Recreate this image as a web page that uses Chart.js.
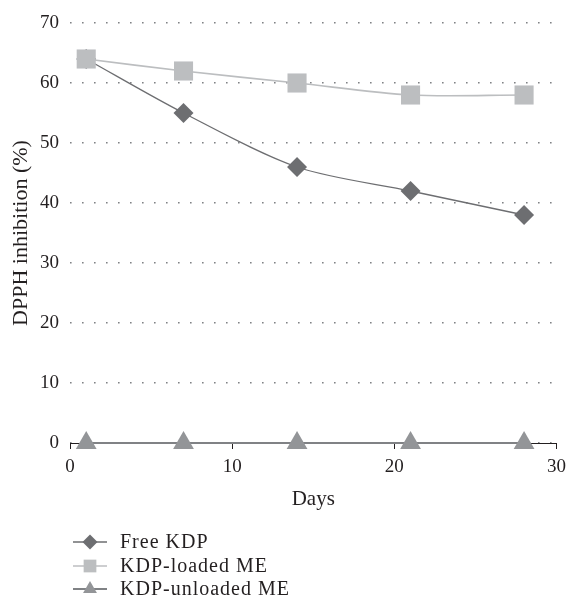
<!DOCTYPE html>
<html><head><meta charset="utf-8">
<script src="https://cdn.jsdelivr.net/npm/chart.js@4.4.1/dist/chart.umd.min.js"></script>
<style>
html,body{margin:0;padding:0;background:#fff;}
#wrap{position:relative;width:573px;height:601px;}
#legend{position:absolute;left:120px;top:530px;font-family:"Liberation Serif",serif;font-size:20px;letter-spacing:1px;color:#231f20;}
#legend div{height:23.5px;line-height:23.5px;white-space:nowrap;}
</style></head><body>
<div id="wrap"><canvas id="c" width="573" height="601"></canvas><div id="legend"></div></div>
<script>
const days = [1, 7, 14, 21, 28];
const seriesNames = ['Free KDP', 'KDP-loaded ME', 'KDP-unloaded ME'];
const freeKDP = [64, 55, 46, 42, 38];
const loadedME = [64, 62, 60, 58, 58];
const unloadedME = [0, 0, 0, 0, 0];
const xTickValues = [0, 10, 20, 30];
const yTickValues = [0, 10, 20, 30, 40, 50, 60, 70];
const xTitle = 'Days';
const yTitle = 'DPPH inhibition (%)';

const FONT = '"Liberation Serif", "Times New Roman", serif';
const TEXT = '#231f20';
const styles = [
  {color: '#6d6e71', line: '#6d6e71', lw: 1.3, shape: 'rectRot', r: 10, lr: 7.5, order: 1},
  {color: '#bcbec0', line: '#bcbec0', lw: 1.6, shape: 'rect', r: 13.5, lr: 9, order: 0},
  {color: '#939598', line: '#808285', lw: 2, shape: 'triangle', r: 12, lr: 8, order: 2}
];
const seriesData = [freeKDP, loadedME, unloadedME];
const legendRowY = [542, 566, 589];

const legendEl = document.getElementById('legend');
seriesNames.forEach(n => { const d = document.createElement('div'); d.textContent = n; legendEl.appendChild(d); });

const legendIcons = {
  id: 'legendIcons',
  afterDraw(chart) {
    const ctx = chart.ctx;
    styles.forEach((s, i) => {
      const y = legendRowY[i];
      ctx.save();
      ctx.strokeStyle = s.line;
      ctx.lineWidth = s.lw;
      ctx.beginPath(); ctx.moveTo(73, y); ctx.lineTo(107, y); ctx.stroke();
      ctx.fillStyle = s.color;
      Chart.helpers.drawPoint(ctx, {pointStyle: s.shape, radius: s.lr, rotation: 0, borderWidth: 0}, 90, y);
      ctx.restore();
    });
  }
};

new Chart(document.getElementById('c'), {
  type: 'line',
  data: {
    datasets: seriesNames.map((name, i) => ({
      label: name,
      data: days.map((d, k) => ({x: d, y: seriesData[i][k]})),
      borderColor: styles[i].line,
      borderWidth: styles[i].lw,
      backgroundColor: styles[i].color,
      pointStyle: styles[i].shape,
      pointRadius: styles[i].r,
      pointHoverRadius: styles[i].r,
      pointBorderWidth: 0,
      pointBackgroundColor: styles[i].color,
      tension: 0.3,
      clip: false,
      order: styles[i].order
    }))
  },
  options: {
    responsive: false,
    animation: false,
    devicePixelRatio: 1,
    layout: {padding: {top: 23, right: 12, bottom: 88, left: 0}},
    plugins: {legend: {display: false}, tooltip: {enabled: false}},
    scales: {
      x: {
        type: 'linear', min: 0, max: 30,
        afterBuildTicks: s => { s.ticks = xTickValues.map(v => ({value: v})); },
        afterFit: s => { s.height = 70; },
        ticks: {font: {family: FONT, size: 19}, color: TEXT, padding: 7},
        grid: {display: true, drawOnChartArea: false, drawTicks: true, tickLength: 6, color: TEXT, lineWidth: 1},
        border: {display: true, color: TEXT, width: 1},
        title: {display: true, text: xTitle, font: {family: FONT, size: 21}, color: TEXT, padding: {top: 0, bottom: 1}}
      },
      y: {
        type: 'linear', min: 0, max: 70,
        afterBuildTicks: s => { s.ticks = yTickValues.map(v => ({value: v})); },
        afterFit: s => { s.width = 70; },
        ticks: {font: {family: FONT, size: 19}, color: TEXT, padding: 11},
        grid: {display: true, drawTicks: false, color: '#808285', lineWidth: 1.6},
        border: {display: false, dash: [1.6, 10.4]},
        title: {display: true, text: yTitle, font: {family: FONT, size: 22}, color: TEXT, padding: {top: 8, bottom: 0}}
      }
    }
  },
  plugins: [legendIcons]
});
</script>
</body></html>
